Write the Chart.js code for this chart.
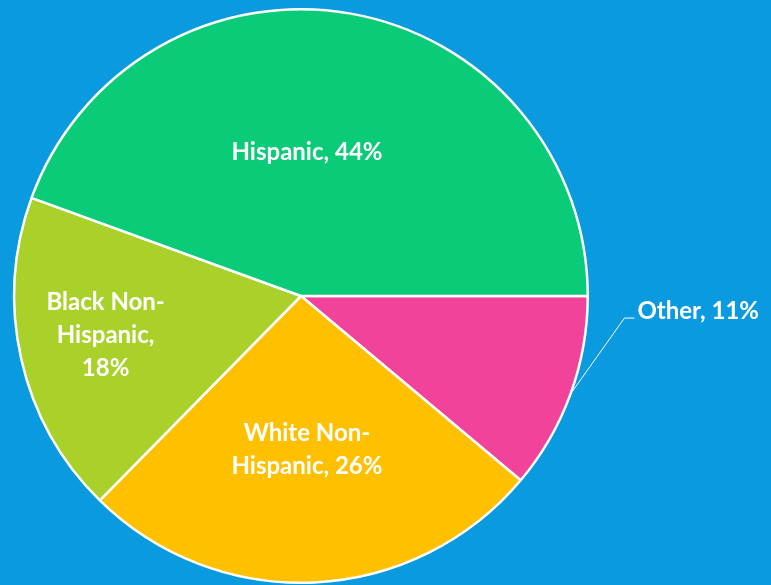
<!DOCTYPE html>
<html>
<head>
<meta charset="utf-8">
<script src="https://cdn.jsdelivr.net/npm/chart.js@4/dist/chart.umd.min.js"></script>
<style>
html,body{margin:0;padding:0;background:#0A9ADF;}
#wrap{width:771px;height:585px;position:relative;}
</style>
</head>
<body>
<div id="wrap"><canvas id="c" width="771" height="585"></canvas></div>
<script>
// Data (clockwise from 3 o'clock)
const categories = ["Other", "White Non-Hispanic", "Black Non-Hispanic", "Hispanic"];
const values = [11, 26, 18, 44];
const labelLines = [
  ["Other, 11%"],
  ["White Non-", "Hispanic, 26%"],
  ["Black Non-", "Hispanic,", "18%"],
  ["Hispanic, 44%"]
];
const colors = ["#F2439A", "#FFC000", "#A9D12A", "#0ACC78"];

// label placement: radial fraction and angle offset (degrees); outside = leader line
const labelPlace = [
  {outside: true},
  {frac: 0.535, dAng: 0.5},
  {frac: 0.695, dAng: 1.4},
  {frac: 0.50, dAng: -7.6}
];

const labelPlugin = {
  id: 'sliceLabels',
  afterDatasetsDraw(chart) {
    const ctx = chart.ctx;
    const meta = chart.getDatasetMeta(0);
    ctx.save();
    ctx.fillStyle = '#FFFFFF';
    ctx.font = 'bold 24px Lato';
    ctx.textBaseline = 'middle';
    const lh = 33;
    meta.data.forEach((arc, i) => {
      const p = arc.getProps(['x','y','startAngle','endAngle','outerRadius'], true);
      const mid = (p.startAngle + p.endAngle) / 2;
      const cfg = labelPlace[i];
      const lines = labelLines[i];
      if (cfg.outside) {
        const ex = p.x + Math.cos(mid) * p.outerRadius;
        const ey = p.y + Math.sin(mid) * p.outerRadius;
        const bx = ex + 54, by = ey - 76;
        ctx.strokeStyle = '#FFFFFF';
        ctx.lineWidth = 1;
        ctx.beginPath();
        ctx.moveTo(ex, ey);
        ctx.lineTo(bx, by);
        ctx.lineTo(bx + 10, by);
        ctx.stroke();
        ctx.textAlign = 'left';
        ctx.fillText(lines[0], bx + 13, by - 7);
      } else {
        const a = mid + cfg.dAng * Math.PI / 180;
        const r = p.outerRadius * cfg.frac;
        const cx = p.x + Math.cos(a) * r;
        const cy = p.y + Math.sin(a) * r;
        ctx.textAlign = 'center';
        const y0 = cy - (lines.length - 1) * lh / 2;
        lines.forEach((t, k) => ctx.fillText(t, cx, y0 + k * lh));
      }
    });
    ctx.restore();
  }
};

new Chart(document.getElementById('c'), {
  type: 'pie',
  data: {
    labels: categories,
    datasets: [{
      data: values,
      backgroundColor: colors,
      borderColor: '#FFFFFF',
      borderWidth: 2.5
    }]
  },
  options: {
    responsive: false,
    animation: false,
    rotation: 90,
    layout: {padding: {left: 13, top: 8, right: 182, bottom: 1}},
    plugins: {legend: {display: false}, tooltip: {enabled: false}}
  },
  plugins: [labelPlugin]
});
</script>
</body>
</html>
